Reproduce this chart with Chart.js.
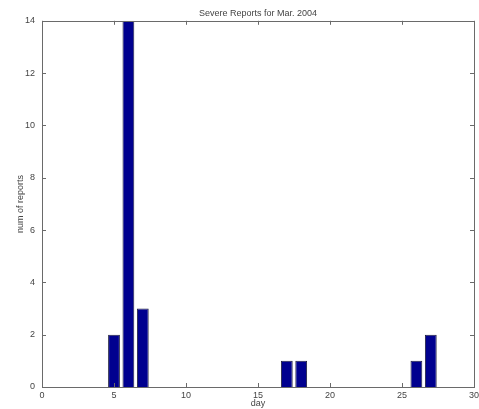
<!DOCTYPE html>
<html>
<head>
<meta charset="utf-8">
<script src="https://cdn.jsdelivr.net/npm/chart.js@4.4.1/dist/chart.umd.min.js"></script>
<style>
  html, body { margin: 0; padding: 0; background: #fff; }
</style>
</head>
<body>
<canvas id="myChart" width="479" height="409"></canvas>
<script>
// Days of March 2004 with severe reports
const days = [5, 6, 7, 17, 18, 26, 27];
const reports = [2, 14, 3, 1, 1, 1, 2];

// Tick labels
const xTicks = [0, 5, 10, 15, 20, 25, 30];
const yTicks = [0, 2, 4, 6, 8, 10, 12, 14];

const axisColor = "#6a6a6a";
const textColor = "#444";
const font = { family: "Liberation Sans, Arial, sans-serif", size: 9, weight: "normal" };

// Box round the plot with ticks pointing inward
const boxPlugin = {
  id: "box",
  afterDraw: (chart) => {
    const ctx = chart.ctx;
    const a = chart.chartArea;
    const x = chart.scales.x;
    const y = chart.scales.y;
    ctx.save();
    ctx.strokeStyle = axisColor;
    ctx.lineWidth = 1;
    ctx.strokeRect(Math.round(a.left) + 0.5, Math.round(a.top) + 0.5,
      Math.round(a.right - a.left), Math.round(a.bottom - a.top));
    ctx.beginPath();
    xTicks.forEach(t => {
      const px = Math.round(x.getPixelForValue(t)) + 0.5;
      ctx.moveTo(px, a.bottom); ctx.lineTo(px, a.bottom - 4);
      ctx.moveTo(px, a.top); ctx.lineTo(px, a.top + 4);
    });
    yTicks.forEach(t => {
      const py = Math.round(y.getPixelForValue(t)) + 0.5;
      ctx.moveTo(a.left, py); ctx.lineTo(a.left + 4, py);
      ctx.moveTo(a.right, py); ctx.lineTo(a.right - 4, py);
    });
    ctx.stroke();
    ctx.restore();
  }
};

const ctx = document.getElementById("myChart").getContext("2d");
const myChart = new Chart(ctx, {
  type: "bar",
  data: {
    datasets: [{
      data: days.map((d, i) => ({ x: d, y: reports[i] })),
      backgroundColor: "#00008f",
      borderColor: "#202040",
      borderWidth: 1,
      barPercentage: 0.82,
      categoryPercentage: 1
    }]
  },
  options: {
    responsive: false,
    animation: false,
    layout: { padding: { left: 0, right: 0, top: 0, bottom: 0 } },
    plugins: {
      legend: { display: false },
      tooltip: { enabled: false },
      title: {
        display: true,
        fullSize: false,
        text: "Severe Reports for Mar. 2004",
        color: textColor,
        font: font,
        padding: { top: 8, bottom: 2 }
      }
    },
    scales: {
      x: {
        type: "linear",
        min: 0,
        max: 30,
        offset: false,
        afterBuildTicks: s => { s.ticks = xTicks.map(v => ({ value: v })); },
        afterFit: s => { s.height = 22; s.paddingRight = 5; },
        grid: { display: false, drawTicks: false, offset: false },
        border: { display: false },
        ticks: { color: textColor, font: font, padding: 3, maxRotation: 0 },
        title: { display: true, text: "day", color: textColor, font: font, padding: { top: 1, bottom: 0 } }
      },
      y: {
        min: 0,
        max: 14,
        afterBuildTicks: s => { s.ticks = yTicks.map(v => ({ value: v })); },
        afterFit: s => { s.width = 42; },
        grid: { display: false, drawTicks: false },
        border: { display: false },
        ticks: { color: textColor, font: font, padding: 7 },
        title: { display: true, text: "num of reports", color: textColor, font: font, padding: { top: 15, bottom: 0 } }
      }
    }
  },
  plugins: [boxPlugin]
});
</script>
</body>
</html>
